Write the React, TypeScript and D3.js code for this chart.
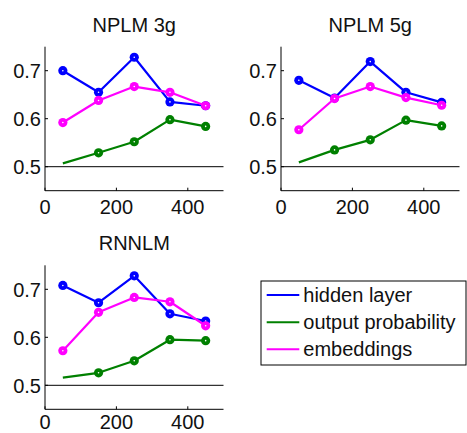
import * as d3 from 'd3';

// x positions shared by all panels
const sizes = [50, 150, 250, 350, 450];
const xTicks = [0, 200, 400];
const yTicks = [0.5, 0.6, 0.7];

const seriesNames = ['hidden layer', 'output probability', 'embeddings'];
const seriesColors = ['#0000ff', '#008000', '#ff00ff'];

const nplm3gHidden = [0.700, 0.655, 0.728, 0.635, 0.627];
const nplm3gOutput = [0.507, 0.529, 0.552, 0.598, 0.584];
const nplm3gEmbed = [0.592, 0.638, 0.667, 0.655, 0.627];

const nplm5gHidden = [0.680, 0.643, 0.719, 0.655, 0.634];
const nplm5gOutput = [0.509, 0.535, 0.556, 0.597, 0.585];
const nplm5gEmbed = [0.577, 0.642, 0.667, 0.644, 0.628];

const rnnHidden = [0.708, 0.672, 0.728, 0.649, 0.634];
const rnnOutput = [0.516, 0.526, 0.551, 0.595, 0.593];
const rnnEmbed = [0.572, 0.652, 0.683, 0.674, 0.624];

const panels = [
  { title: 'NPLM 3g', left: 45, top: 46.7, series: [nplm3gHidden, nplm3gOutput, nplm3gEmbed] },
  { title: 'NPLM 5g', left: 281, top: 46.7, series: [nplm5gHidden, nplm5gOutput, nplm5gEmbed] },
  { title: 'RNNLM', left: 45, top: 265.3, series: [rnnHidden, rnnOutput, rnnEmbed] },
];

const width = 467;
const height = 433;
const plotW = 178.5;
const plotH = 144;
const font = '"Liberation Sans", Arial, Helvetica, sans-serif';

function Panel({ title, left, top, series }) {
  const x = d3.scaleLinear().domain([0, 500]).range([left, left + plotW]);
  const y = d3.scaleLinear().domain([0.45, 0.75]).range([top + plotH, top]);
  const line = d3.line<number>().x((d, i) => x(sizes[i])).y(d => y(d));

  return <g>
    <text x={x(250)} y={top - 15} textAnchor='middle' fontSize={20} fill='#111'>{title}</text>
    {/* reference line at 0.5 */}
    <line x1={x(0)} x2={x(500)} y1={y(0.5)} y2={y(0.5)} stroke='#000' strokeWidth={1} />
    {/* axes: left and bottom only */}
    <line x1={x(0)} x2={x(0)} y1={y(0.75)} y2={y(0.45)} stroke='#000' strokeWidth={1} />
    <line x1={x(0)} x2={x(500)} y1={y(0.45)} y2={y(0.45)} stroke='#000' strokeWidth={1} />
    {yTicks.map(t => <g key={t}>
      <line x1={x(0)} x2={x(0) + 3} y1={y(t)} y2={y(t)} stroke='#000' strokeWidth={1} />
      <text x={x(0) - 4} y={y(t) + 7.2} textAnchor='end' fontSize={20} fill='#111'>{t.toFixed(1)}</text>
    </g>)}
    {xTicks.map(t => <g key={t}>
      <line x1={x(t)} x2={x(t)} y1={y(0.45)} y2={y(0.45) - 3} stroke='#000' strokeWidth={1} />
      {/* keep the bottom panel's labels inside the picture */}
      <text x={x(t)} y={Math.min(y(0.45) + 23.5, height - 4.5)} textAnchor='middle' fontSize={20} fill='#111'>{t}</text>
    </g>)}
    {series.map((vals, si) => <g key={si}>
      <path d={line(vals)} fill='none' stroke={seriesColors[si]} strokeWidth={2.2} strokeLinejoin='round' />
      {vals.map((v, i) => {
        // the output probability curve has no marker at its first point
        if (si === 1 && i === 0) return null;
        return <g key={i}>
          <circle cx={x(sizes[i])} cy={y(v)} r={4.6} fill={seriesColors[si]} />
          <circle cx={x(sizes[i])} cy={y(v)} r={0.8} fill='#fff' />
        </g>;
      })}
    </g>)}
  </g>;
}

function Legend() {
  const rowY = [295, 322.3, 349.3];
  return <g>
    <rect x={261} y={281} width={205} height={84} fill='#fff' stroke='#000' strokeWidth={1} />
    {seriesNames.map((name, i) => <g key={name}>
      <line x1={266.7} x2={299.3} y1={rowY[i]} y2={rowY[i]} stroke={seriesColors[i]} strokeWidth={2} />
      <text x={303.3} y={rowY[i] + 7} fontSize={20} fill='#111'>{name}</text>
    </g>)}
  </g>;
}

export default function App() {
  return <svg width={width} height={height} style={{ position: 'absolute', left: 0, top: 0, background: '#fff' }}
    fontFamily={font}>
    <rect width={width} height={height} fill='#fff' />
    {panels.map(p => <Panel key={p.title} {...p} />)}
    <Legend />
  </svg>;
}
